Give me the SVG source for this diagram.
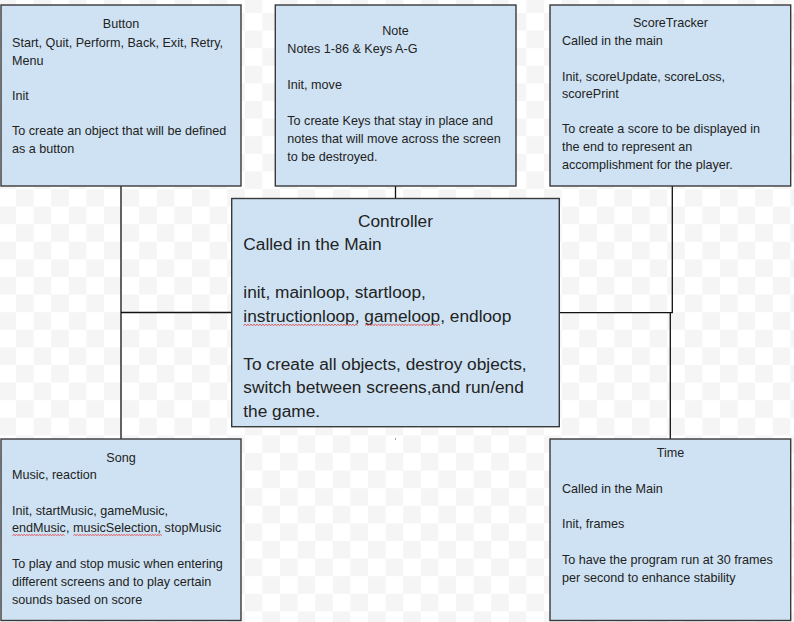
<svg xmlns="http://www.w3.org/2000/svg" width="794" height="622" viewBox="0 0 794 622">
<defs>
<pattern id="checker" patternUnits="userSpaceOnUse" x="-1.6" y="-4.6" width="35.2" height="35.2">
<rect x="0" y="0" width="35.2" height="35.2" fill="#ffffff"/>
<rect x="0" y="0" width="17.6" height="17.6" fill="#f5f5f5"/>
<rect x="17.6" y="17.6" width="17.6" height="17.6" fill="#f5f5f5"/>
</pattern>
<style>
.box{fill:#cfe2f3;stroke:#3a3a3a;stroke-width:1.4}
.t{font-family:"Liberation Sans",Arial,sans-serif;font-size:12.6px;fill:#222}
.tc{text-anchor:middle}
.big{font-size:17.3px}
.conn{stroke:#111;stroke-width:1.3;fill:none}
.sq{stroke:#e04040;stroke-width:0.9;fill:none}
</style>
</defs>
<rect width="794" height="622" fill="url(#checker)"/>

<g id="connectors">
<path class="conn" d="M121 186 V439"/>
<path class="conn" d="M121 312.5 H232"/>
<path class="conn" d="M395.5 186 V198.5"/>
<path class="conn" d="M672.3 186 V312.7 H559"/>
<path class="conn" d="M670.3 312.7 V439"/>
</g>

<g id="button">
<rect class="box" x="1" y="5" width="240" height="181"/>
<text class="t tc" x="121" y="27.5">Button</text>
<text class="t" x="12" y="47">Start, Quit, Perform, Back, Exit, Retry,</text>
<text class="t" x="12" y="64.5">Menu</text>
<text class="t" x="12" y="99.5">Init</text>
<text class="t" x="12" y="135">To create an object that will be defined</text>
<text class="t" x="12" y="152.5">as a button</text>
</g>

<g id="note">
<rect class="box" x="275.3" y="5" width="240.7" height="181"/>
<text class="t tc" x="395.5" y="35.3">Note</text>
<text class="t" x="287.3" y="53.3">Notes 1-86 &amp; Keys A-G</text>
<text class="t" x="287.3" y="89.3">Init, move</text>
<text class="t" x="287.3" y="125">To create Keys that stay in place and</text>
<text class="t" x="287.3" y="142.7">notes that will move across the screen</text>
<text class="t" x="287.3" y="160.7">to be destroyed.</text>
</g>

<g id="scoretracker">
<rect class="box" x="550" y="5" width="240.7" height="181"/>
<text class="t tc" x="670.5" y="26.7">ScoreTracker</text>
<text class="t" x="562" y="45">Called in the main</text>
<text class="t" x="562" y="81">Init, scoreUpdate, scoreLoss,</text>
<text class="t" x="562" y="98.3">scorePrint</text>
<text class="t" x="562" y="133.3">To create a score to be displayed in</text>
<text class="t" x="562" y="151">the end to represent an</text>
<text class="t" x="562" y="169">accomplishment for the player.</text>
</g>

<g id="controller">
<rect class="box" x="231.7" y="198.5" width="327.6" height="228.2"/>
<text class="t big tc" x="395.5" y="227">Controller</text>
<text class="t big" x="243.3" y="250">Called in the Main</text>
<text class="t big" x="243.3" y="298.3">init, mainloop, startloop,</text>
<text class="t big" x="243.3" y="322.3">instructionloop, gameloop, endloop</text>
<text class="t big" x="243.3" y="370">To create all objects, destroy objects,</text>
<text class="t big" x="243.3" y="393.3">switch between screens,and run/end</text>
<text class="t big" x="243.3" y="417.3">the game.</text>
<path class="sq" d="M243.5 325.5 l1.5 -1.2 l1.5 1.2 l1.5 -1.2 l1.5 1.2 l1.5 -1.2 l1.5 1.2 l1.5 -1.2 l1.5 1.2 l1.5 -1.2 l1.5 1.2 l1.5 -1.2 l1.5 1.2 l1.5 -1.2 l1.5 1.2 l1.5 -1.2 l1.5 1.2 l1.5 -1.2 l1.5 1.2 l1.5 -1.2 l1.5 1.2 l1.5 -1.2 l1.5 1.2 l1.5 -1.2 l1.5 1.2 l1.5 -1.2 l1.5 1.2 l1.5 -1.2 l1.5 1.2 l1.5 -1.2 l1.5 1.2 l1.5 -1.2 l1.5 1.2 l1.5 -1.2 l1.5 1.2 l1.5 -1.2 l1.5 1.2 l1.5 -1.2 l1.5 1.2 l1.5 -1.2 l1.5 1.2 l1.5 -1.2 l1.5 1.2 l1.5 -1.2 l1.5 1.2 l1.5 -1.2 l1.5 1.2 l1.5 -1.2 l1.5 1.2 l1.5 -1.2 l1.5 1.2 l1.5 -1.2 l1.5 1.2 l1.5 -1.2 l1.5 1.2 l1.5 -1.2 l1.5 1.2 l1.5 -1.2 l1.5 1.2 l1.5 -1.2 l1.5 1.2 l1.5 -1.2 l1.5 1.2 l1.5 -1.2 l1.5 1.2 l1.5 -1.2 l1.5 1.2 l1.5 -1.2 l1.5 1.2 l1.5 -1.2 l1.5 1.2 l1.5 -1.2 l1.5 1.2 l1.5 -1.2 l1.5 1.2 l1.5 -1.2 l1.5 1.2"/>
<path class="sq" d="M365 325.5 l1.5 -1.2 l1.5 1.2 l1.5 -1.2 l1.5 1.2 l1.5 -1.2 l1.5 1.2 l1.5 -1.2 l1.5 1.2 l1.5 -1.2 l1.5 1.2 l1.5 -1.2 l1.5 1.2 l1.5 -1.2 l1.5 1.2 l1.5 -1.2 l1.5 1.2 l1.5 -1.2 l1.5 1.2 l1.5 -1.2 l1.5 1.2 l1.5 -1.2 l1.5 1.2 l1.5 -1.2 l1.5 1.2 l1.5 -1.2 l1.5 1.2 l1.5 -1.2 l1.5 1.2 l1.5 -1.2 l1.5 1.2 l1.5 -1.2 l1.5 1.2 l1.5 -1.2 l1.5 1.2 l1.5 -1.2 l1.5 1.2 l1.5 -1.2 l1.5 1.2 l1.5 -1.2 l1.5 1.2 l1.5 -1.2 l1.5 1.2 l1.5 -1.2 l1.5 1.2 l1.5 -1.2 l1.5 1.2 l1.5 -1.2 l1.5 1.2 l1.5 -1.2 l1.5 1.2"/>
</g>

<g id="song">
<rect class="box" x="1" y="439" width="240" height="181.5"/>
<text class="t tc" x="121" y="462.3">Song</text>
<text class="t" x="12" y="479">Music, reaction</text>
<text class="t" x="12" y="515">Init, startMusic, gameMusic,</text>
<text class="t" x="12" y="532.3">endMusic, musicSelection, stopMusic</text>
<text class="t" x="12" y="568.3">To play and stop music when entering</text>
<text class="t" x="12" y="586">different screens and to play certain</text>
<text class="t" x="12" y="604">sounds based on score</text>
<path class="sq" d="M12.5 535.5 l1.3 -1 l1.3 1 l1.3 -1 l1.3 1 l1.3 -1 l1.3 1 l1.3 -1 l1.3 1 l1.3 -1 l1.3 1 l1.3 -1 l1.3 1 l1.3 -1 l1.3 1 l1.3 -1 l1.3 1 l1.3 -1 l1.3 1 l1.3 -1 l1.3 1 l1.3 -1 l1.3 1 l1.3 -1 l1.3 1 l1.3 -1 l1.3 1 l1.3 -1 l1.3 1 l1.3 -1 l1.3 1 l1.3 -1 l1.3 1 l1.3 -1 l1.3 1 l1.3 -1 l1.3 1 l1.3 -1 l1.3 1 l1.3 -1 l1.3 1"/>
<path class="sq" d="M73.5 535.5 l1.3 -1 l1.3 1 l1.3 -1 l1.3 1 l1.3 -1 l1.3 1 l1.3 -1 l1.3 1 l1.3 -1 l1.3 1 l1.3 -1 l1.3 1 l1.3 -1 l1.3 1 l1.3 -1 l1.3 1 l1.3 -1 l1.3 1 l1.3 -1 l1.3 1 l1.3 -1 l1.3 1 l1.3 -1 l1.3 1 l1.3 -1 l1.3 1 l1.3 -1 l1.3 1 l1.3 -1 l1.3 1 l1.3 -1 l1.3 1 l1.3 -1 l1.3 1 l1.3 -1 l1.3 1 l1.3 -1 l1.3 1 l1.3 -1 l1.3 1 l1.3 -1 l1.3 1 l1.3 -1 l1.3 1 l1.3 -1 l1.3 1 l1.3 -1 l1.3 1 l1.3 -1 l1.3 1 l1.3 -1 l1.3 1 l1.3 -1 l1.3 1 l1.3 -1 l1.3 1 l1.3 -1 l1.3 1 l1.3 -1 l1.3 1 l1.3 -1 l1.3 1 l1.3 -1 l1.3 1 l1.3 -1 l1.3 1 l1.3 -1 l1.3 1"/>
</g>

<g id="time">
<rect class="box" x="550" y="439" width="240.7" height="181.5"/>
<text class="t tc" x="670.5" y="457.3">Time</text>
<text class="t" x="562" y="492.7">Called in the Main</text>
<text class="t" x="562" y="528.3">Init, frames</text>
<text class="t" x="562" y="564">To have the program run at 30 frames</text>
<text class="t" x="562" y="582.3">per second to enhance stability</text>
</g>

<rect x="395" y="438.5" width="1" height="1" fill="#444"/>
</svg>
